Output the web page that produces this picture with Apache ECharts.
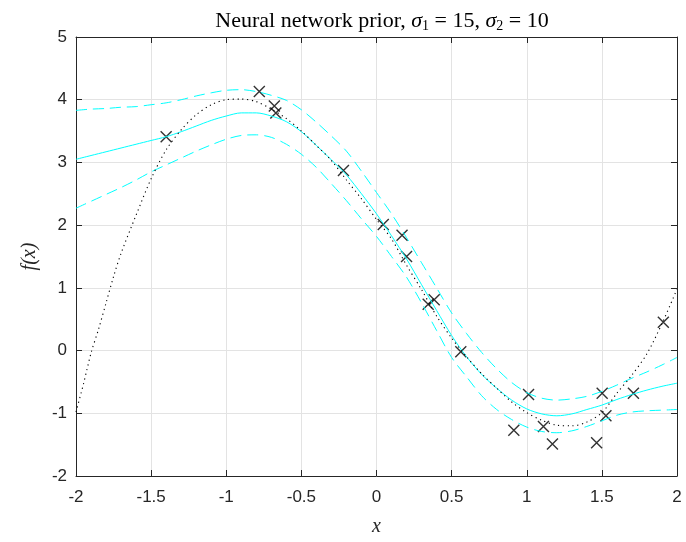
<!DOCTYPE html>
<html>
<head>
<meta charset="utf-8">
<script src="https://cdn.jsdelivr.net/npm/echarts@6/dist/echarts.min.js"></script>
<style>html,body{margin:0;padding:0;background:#fff}#c{width:686px;height:542px}</style>
</head>
<body>
<div id="c"></div>
<script>
// ---- data ----
const gridX = [-2,-1.9,-1.8,-1.7,-1.6,-1.5,-1.4,-1.3,-1.2,-1.1,-1,-0.9,-0.8,-0.7,-0.6,-0.5,-0.4,-0.3,-0.2,-0.1,0,0.1,0.2,0.3,0.4,0.5,0.6,0.7,0.8,0.9,1,1.1,1.2,1.3,1.4,1.5,1.6,1.7,1.8,1.9,2];
const meanY = [3.05,3.11,3.17,3.23,3.29,3.35,3.41,3.49,3.58,3.67,3.74,3.79,3.79,3.74,3.65,3.49,3.27,3.04,2.8,2.5,2.18,1.83,1.46,1.05,0.64,0.24,-0.1,-0.38,-0.6,-0.79,-0.93,-1.01,-1.04,-1.01,-0.94,-0.87,-0.78,-0.7,-0.63,-0.57,-0.52];
const upperY = [3.83,3.85,3.86,3.88,3.89,3.92,3.95,4.0,4.06,4.11,4.15,4.16,4.13,4.07,3.99,3.84,3.64,3.42,3.18,2.86,2.52,2.18,1.8,1.4,1.0,0.6,0.27,-0.03,-0.29,-0.51,-0.67,-0.76,-0.79,-0.77,-0.73,-0.65,-0.55,-0.44,-0.34,-0.23,-0.11];
const lowerY = [2.27,2.38,2.49,2.6,2.72,2.85,2.96,3.07,3.18,3.28,3.37,3.43,3.44,3.4,3.29,3.13,2.92,2.66,2.39,2.1,1.82,1.5,1.17,0.76,0.32,-0.11,-0.42,-0.72,-0.94,-1.1,-1.22,-1.29,-1.31,-1.28,-1.21,-1.12,-1.03,-0.98,-0.96,-0.95,-0.94];
const trueX = [-2,-1.95,-1.9,-1.85,-1.8,-1.75,-1.7,-1.6,-1.5,-1.4,-1.3,-1.2,-1.1,-1,-0.9,-0.8,-0.7,-0.6,-0.5,-0.4,-0.3,-0.2,-0.1,0,0.1,0.2,0.3,0.4,0.5,0.6,0.7,0.8,0.9,1,1.1,1.2,1.3,1.4,1.5,1.6,1.7,1.8,1.9,2];
const trueY = [-0.98,-0.53,-0.04,0.34,0.76,1.18,1.55,2.16,2.74,3.2,3.52,3.76,3.92,4.0,4.01,3.97,3.85,3.7,3.5,3.27,3.03,2.72,2.42,2.09,1.78,1.36,0.97,0.55,0.2,-0.1,-0.37,-0.6,-0.82,-0.99,-1.11,-1.19,-1.2,-1.14,-0.99,-0.68,-0.39,-0.05,0.43,0.98];
const obsX = [-1.40,-0.78,-0.68,-0.67,-0.22,0.045,0.17,0.20,0.344,0.384,0.561,0.914,1.012,1.111,1.171,1.465,1.502,1.527,1.71,1.909];
const obsY = [3.41,4.13,3.90,3.79,2.87,2.01,1.84,1.50,0.74,0.81,-0.02,-1.27,-0.70,-1.21,-1.49,-1.47,-0.68,-1.04,-0.68,0.45];
const xTicks = [-2,-1.5,-1,-0.5,0,0.5,1,1.5,2];
const yTicks = [-2,-1,0,1,2,3,4,5];

const zip = (xs, ys) => xs.map((x, i) => [x, ys[i]]);
const axisColor = '#262626';
const labelFont = {color: axisColor, fontFamily: 'Liberation Sans, Arial, sans-serif', fontSize: 17};

function mkX(pos, main) {
  return {
    type: 'value', position: pos, min: xTicks[0], max: xTicks[xTicks.length-1], interval: 0.5,
    axisLine: {show: true, onZero: false, lineStyle: {color: axisColor, width: 1}},
    axisTick: {show: true, inside: true, length: 6, lineStyle: {color: axisColor}},
    axisLabel: main ? Object.assign({show: true, margin: 13, formatter: v => String(v)}, labelFont) : {show: false},
    splitLine: main ? {show: true, lineStyle: {color: '#e3e3e3', width: 1}} : {show: false},
    name: main ? 'x' : '', nameLocation: 'middle', nameGap: 41,
    nameTextStyle: {fontFamily: 'Liberation Serif, serif', fontStyle: 'italic', fontSize: 20, color: axisColor}
  };
}
function mkY(pos, main) {
  return {
    type: 'value', position: pos, min: yTicks[0], max: yTicks[yTicks.length-1], interval: 1,
    axisLine: {show: true, onZero: false, lineStyle: {color: axisColor, width: 1}},
    axisTick: {show: true, inside: true, length: 6, lineStyle: {color: axisColor}},
    axisLabel: main ? Object.assign({show: true, margin: 9, formatter: v => String(v)}, labelFont) : {show: false},
    splitLine: main ? {show: true, lineStyle: {color: '#e3e3e3', width: 1}} : {show: false},
    name: main ? 'f(x)' : '', nameLocation: 'middle', nameGap: 36, nameRotate: 90,
    nameTextStyle: {fontFamily: 'Liberation Serif, serif', fontStyle: 'italic', fontSize: 20, color: axisColor}
  };
}

const chart = echarts.init(document.getElementById('c'), null, {renderer: 'canvas'});
chart.setOption({
  animation: false,
  backgroundColor: '#ffffff',
  title: {
    left: 377, top: 4, textAlign: 'center',
    text: 'Neural network prior, {i|σ}{s|1}{n| = 15, }{i|σ}{s|2}{n| = 10}',
    textStyle: {
      fontFamily: 'Liberation Serif, serif', fontSize: 22, fontWeight: 'normal', color: '#000',
      rich: {
        i: {fontFamily: 'Liberation Serif, serif', fontStyle: 'italic', fontSize: 22, color: '#000'},
        s: {fontFamily: 'Liberation Serif, serif', fontSize: 14, color: '#000', padding: [10, 0, 0, 0]},
        n: {fontFamily: 'Liberation Serif, serif', fontSize: 22, color: '#000'}
      }
    }
  },
  grid: {left: 76, right: 9, top: 37, bottom: 57, containLabel: false},
  xAxis: [mkX('bottom', true), mkX('top', false)],
  yAxis: [mkY('left', true), mkY('right', false)],
  series: [
    {type: 'line', data: zip(gridX, upperY), symbol: 'none', smooth: 0.3,
     lineStyle: {color: '#00ffff', width: 1, type: [11, 6]}},
    {type: 'line', data: zip(gridX, lowerY), symbol: 'none', smooth: 0.3,
     lineStyle: {color: '#00ffff', width: 1, type: [11, 6]}},
    {type: 'line', data: zip(gridX, meanY), symbol: 'none', smooth: 0.3,
     lineStyle: {color: '#00ffff', width: 1}},
    {type: 'line', data: zip(trueX, trueY), symbol: 'none', smooth: 0.3,
     lineStyle: {color: '#000000', width: 1.1, type: [1.2, 3.6]}},
    {type: 'scatter', data: zip(obsX, obsY), symbol: 'path://M0,0L10,10M10,0L0,10', symbolSize: 11,
     itemStyle: {color: 'none', borderColor: '#000', borderWidth: 1.4}}
  ]
});
</script>
</body>
</html>
